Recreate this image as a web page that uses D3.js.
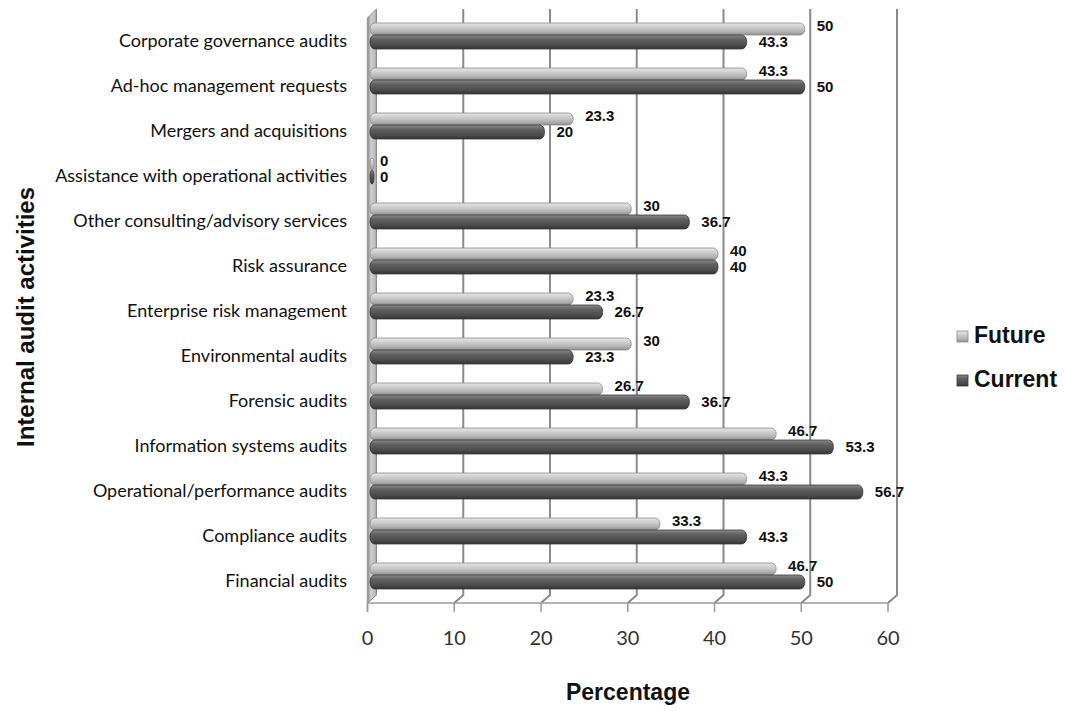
<!DOCTYPE html>
<html>
<head>
<meta charset="utf-8">
<script src="https://cdn.jsdelivr.net/npm/d3@7/dist/d3.min.js"></script>
<style>
  html, body { margin: 0; padding: 0; background: #fff; }
  svg { display: block; }
</style>
</head>
<body>
<svg id="chart" width="1065" height="711"></svg>
<script>
// Internal audit activities, share of respondents (%), top row first
const categories = [
  "Corporate governance audits",
  "Ad-hoc management requests",
  "Mergers and acquisitions",
  "Assistance with operational activities",
  "Other consulting/advisory services",
  "Risk assurance",
  "Enterprise risk management",
  "Environmental audits",
  "Forensic audits",
  "Information systems audits",
  "Operational/performance audits",
  "Compliance audits",
  "Financial audits"
];
const futureValues  = [50, 43.3, 23.3, 0, 30, 40, 23.3, 30, 26.7, 46.7, 43.3, 33.3, 46.7];
const currentValues = [43.3, 50, 20, 0, 36.7, 40, 26.7, 23.3, 36.7, 53.3, 56.7, 43.3, 50];
const seriesNames = ["Future", "Current"];
const xTicks = [0, 10, 20, 30, 40, 50, 60];

const svg = d3.select("#chart");

// front plane of the 3-D box, plus the depth offset of the back wall
const x = d3.scaleLinear().domain([0, 60]).range([367.5, 888]);
const y = d3.scaleBand().domain(categories).range([19.5, 604.5]);
const depthX = 9, depthY = -8;
const frontTop = 18, frontBottom = 603, backTop = 9;

const defs = svg.append("defs");
function vGrad(id, stops) {
  const g = defs.append("linearGradient").attr("id", id)
    .attr("x1", 0).attr("y1", 0).attr("x2", 0).attr("y2", 1);
  stops.forEach(([o, c]) => g.append("stop").attr("offset", o).attr("stop-color", c));
}
vGrad("gFuture", [[0, "#e6e6e6"], [0.35, "#cfcfcf"], [0.75, "#b0b0b0"], [1, "#8e8e8e"]]);
vGrad("gCurrent", [[0, "#8a8a8a"], [0.3, "#626262"], [0.75, "#4a4a4a"], [1, "#333"]]);
const wallGrad = defs.append("linearGradient").attr("id", "gWall")
  .attr("x1", 0).attr("y1", 0).attr("x2", 1).attr("y2", 0);
[[0, "#8a8a8a"], [0.4, "#d0d0d0"], [0.8, "#bdbdbd"], [1, "#a0a0a0"]]
  .forEach(([o, c]) => wallGrad.append("stop").attr("offset", o).attr("stop-color", c));

// left wall
const x0 = x(0);
svg.append("path")
  .attr("d", `M${x0},${frontTop}L${x0 + depthX},${backTop}L${x0 + depthX},${frontBottom + depthY}L${x0},${frontBottom}Z`)
  .attr("fill", "url(#gWall)").attr("stroke", "#8c8c8c").attr("stroke-width", 1);

// back-wall gridlines and their floor edges
const grid = svg.append("g").attr("fill", "none").attr("stroke", "#8a8a8a").attr("stroke-width", 2);
xTicks.filter(v => v > 0).forEach(v => {
  grid.append("path")
    .attr("d", `M${x(v) + depthX},${backTop}L${x(v) + depthX},${frontBottom + depthY}L${x(v)},${frontBottom}`);
});

// floor front edge and axis ticks
const axis = svg.append("g").attr("stroke", "#9a9a9a").attr("stroke-width", 1.5);
axis.append("line").attr("x1", x0).attr("x2", x(60)).attr("y1", frontBottom).attr("y2", frontBottom);
axis.append("line").attr("x1", x0).attr("x2", x0).attr("y1", frontTop).attr("y2", frontBottom + 9);
xTicks.forEach(v => {
  axis.append("line").attr("x1", x(v)).attr("x2", x(v))
    .attr("y1", frontBottom).attr("y2", frontBottom + 9);
});

// tick labels
svg.append("g").selectAll("text").data(xTicks).join("text")
  .attr("x", d => x(d)).attr("y", 640)
  .attr("text-anchor", "middle").attr("dominant-baseline", "middle")
  .attr("font-family", "Lato, 'Open Sans', sans-serif").attr("font-size", 20)
  .attr("fill", "#333").text(d => d);

// category labels
svg.append("g").selectAll("text").data(categories).join("text")
  .attr("x", 347).attr("y", d => y(d) + y.bandwidth() / 2)
  .attr("text-anchor", "end").attr("dominant-baseline", "middle")
  .attr("font-family", "Lato, 'Open Sans', sans-serif").attr("font-size", 18)
  .attr("fill", "#111").text(d => d);

// bars (drawn slightly into the depth of the box)
const barShift = 3.5;
const rows = categories.map((c, i) => ({
  cat: c,
  bars: [
    { s: 0, v: futureValues[i], y0: -19, y1: -7, dy: -2 },
    { s: 1, v: currentValues[i], y0: -7, y1: 7, dy: 1 }
  ]
}));
const barLayer = svg.append("g");
rows.forEach(r => {
  const cy = y(r.cat) + y.bandwidth() / 2;
  r.bars.forEach(b => {
    const left = x0 + 2.5;
    const right = Math.max(x(b.v) + barShift, left + 4);
    const h = b.y1 - b.y0;
    barLayer.append("rect")
      .attr("x", left).attr("y", cy + b.y0)
      .attr("width", right - left).attr("height", h)
      .attr("rx", Math.min(5, (right - left) / 2)).attr("ry", h / 2.2)
      .attr("fill", b.s === 0 ? "url(#gFuture)" : "url(#gCurrent)")
      .attr("stroke", b.s === 0 ? "#8c8c8c" : "#3a3a3a").attr("stroke-width", 0.8);
  });
});

// value labels
const labelLayer = svg.append("g")
  .attr("font-family", "'Liberation Sans', Arial, sans-serif")
  .attr("font-weight", "bold").attr("font-size", 15).attr("fill", "#111");
rows.forEach(r => {
  const cy = y(r.cat) + y.bandwidth() / 2;
  r.bars.forEach(b => {
    labelLayer.append("text")
      .attr("x", x(b.v) + barShift + (b.v === 0 ? 9 : 12))
      .attr("y", cy + (b.y0 + b.y1) / 2 + b.dy)
      .attr("dominant-baseline", "middle")
      .text(d3.format("~f")(b.v));
  });
});

// axis titles
const titleFont = "'Liberation Sans', Arial, sans-serif";
svg.append("text")
  .attr("transform", "translate(28,317) rotate(-90)")
  .attr("text-anchor", "middle").attr("dominant-baseline", "middle")
  .attr("font-family", titleFont).attr("font-weight", "bold").attr("font-size", 24)
  .attr("fill", "#111").text("Internal audit activities");
svg.append("text")
  .attr("x", 628).attr("y", 694)
  .attr("text-anchor", "middle").attr("dominant-baseline", "middle")
  .attr("font-family", titleFont).attr("font-weight", "bold").attr("font-size", 23)
  .attr("fill", "#111").text("Percentage");

// legend
const legend = svg.append("g");
seriesNames.forEach((name, i) => {
  const ly = 337 + i * 44;
  legend.append("rect")
    .attr("x", 957).attr("y", ly - 6).attr("width", 11).attr("height", 11)
    .attr("fill", i === 0 ? "url(#gFuture)" : "url(#gCurrent)")
    .attr("stroke", i === 0 ? "#8c8c8c" : "#3a3a3a").attr("stroke-width", 0.8);
  legend.append("text")
    .attr("x", 974).attr("y", ly)
    .attr("dominant-baseline", "middle")
    .attr("font-family", titleFont).attr("font-weight", "bold").attr("font-size", 23)
    .attr("fill", "#111").text(name);
});
</script>
</body>
</html>
